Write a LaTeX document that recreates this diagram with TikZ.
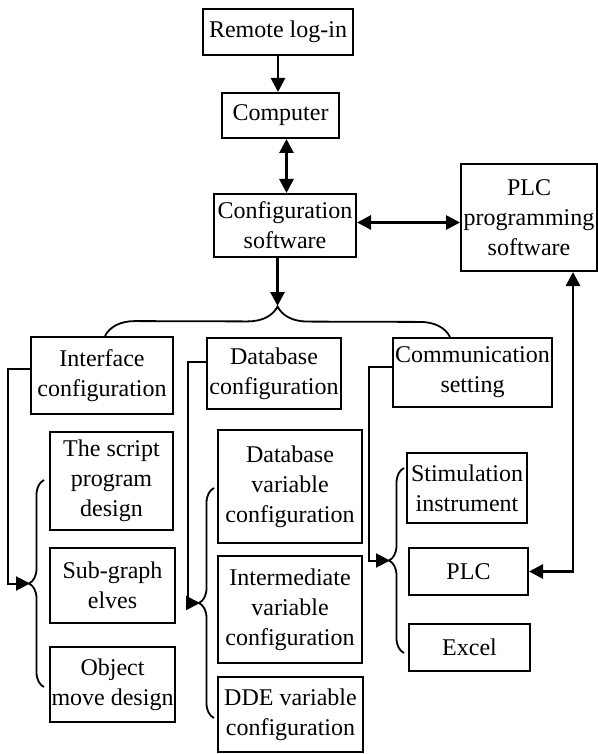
\documentclass[tikz,border=0pt]{standalone}
\usepackage{fontspec}
\setmainfont{Liberation Serif}
\usetikzlibrary{arrows.meta,decorations.pathreplacing}

\tikzset{
  box/.style={draw, line width=1pt, inner sep=0.5pt, align=center, font=\fontsize{12}{15}\selectfont},
  conn/.style={line width=1.4pt},
  link/.style={line width=1pt},
  brc/.style={line width=0.9pt, decorate, decoration={brace, amplitude=#1}},
}

\begin{document}
\begin{tikzpicture}[x=0.5pt, y=-0.5pt, >={Triangle[width=7pt,length=7pt]}]
\useasboundingbox (0,0) rectangle (598,754);

% top chain
\node[box, minimum width=75pt, minimum height=23pt] (remote) at (278,32) {Remote log-in};
\node[box, minimum width=58.5pt, minimum height=22.5pt] (computer) at (280.5,115.5) {Computer};
\node[box, minimum width=71pt, minimum height=31.5pt] (config) at (285,225.5) {Configuration\\software};
\node[box, minimum width=68pt, minimum height=53.5pt] (plcsw) at (529,217.5) {PLC\\programming\\software};

% second row
\node[box, minimum width=71pt, minimum height=38.5pt] (iface) at (102,375.5) {Interface\\configuration};
\node[box, minimum width=67pt, minimum height=35.5pt] (dbase) at (274,373.5) {Database\\configuration};
\node[box, minimum width=79.5pt, minimum height=34.5pt] (comm) at (472.5,372.5) {Communication\\setting};

% interface items
\node[box, minimum width=61.5pt, minimum height=49pt] (script) at (111.5,481) {The script\\program\\design};
\node[box, minimum width=62.5pt, minimum height=37.5pt] (subgraph) at (112.5,585.5) {Sub-graph\\elves};
\node[box, minimum width=62.5pt, minimum height=37.5pt] (object) at (112.5,684.5) {Object\\move design};

% database items
\node[box, minimum width=72pt, minimum height=56.5pt] (dbvar) at (290,486.5) {Database\\variable\\configuration};
\node[box, minimum width=72pt, minimum height=53.5pt] (intervar) at (290,609.5) {Intermediate\\variable\\configuration};
\node[box, minimum width=72.5pt, minimum height=37.5pt] (ddevar) at (290.5,714.5) {DDE variable\\configuration};

% communication items
\node[box, minimum width=60pt, minimum height=35pt] (stim) at (467,488) {Stimulation\\instrument};
\node[box, minimum width=59.5pt, minimum height=23.5pt] (plc) at (468.5,571.5) {PLC};
\node[box, minimum width=60.5pt, minimum height=23.5pt] (excel) at (469.5,647.5) {Excel};

\coordinate (fork) at (277.5,306);
\coordinate (ifacetip) at (30,583.5);
\coordinate (dbtip) at (200,603);
\coordinate (commtip) at (390,560.5);

\draw[conn,->] (remote.south) -- (remote.south |- computer.north);
\draw[conn,<->] ([xshift=3pt]computer.south) -- ([xshift=3pt]computer.south |- config.north);
\draw[conn,<->] ([yshift=1.5pt]config.east) -- ([yshift=1.5pt]config.east -| plcsw.west);
\draw[conn,->] (config.south -| fork) -- (fork);
\draw[conn,<->] ([xshift=22pt]plcsw.south) |- (plc.east);

\draw[brc=15pt] ([xshift=1.5pt]iface.north) -- ([xshift=-11.25pt]comm.north);

\draw[brc=7.5pt] ([xshift=-2.5pt,yshift=-1.25pt]object.west) -- ([xshift=-2.5pt,yshift=0.5pt]script.west);
\draw[link,->] ([yshift=3.5pt]iface.west) -- ++(-22,0) |- (ifacetip);

\draw[brc=7.5pt] ([xshift=-1.5pt,yshift=-1.75pt]ddevar.west) -- ([xshift=-1.5pt,yshift=-0.75pt]dbvar.west);
\draw[link,->] ([yshift=5.75pt]dbase.west) -- ++(-18,0) |- (dbtip);

\draw[brc=7.5pt] ([xshift=-2pt,yshift=-2.75pt]excel.west) -- ([xshift=-1pt,yshift=10pt]stim.west);
\draw[link,->] ([yshift=2.75pt]comm.west) -- ++(-23,0) |- (commtip);

\end{tikzpicture}
\end{document}
